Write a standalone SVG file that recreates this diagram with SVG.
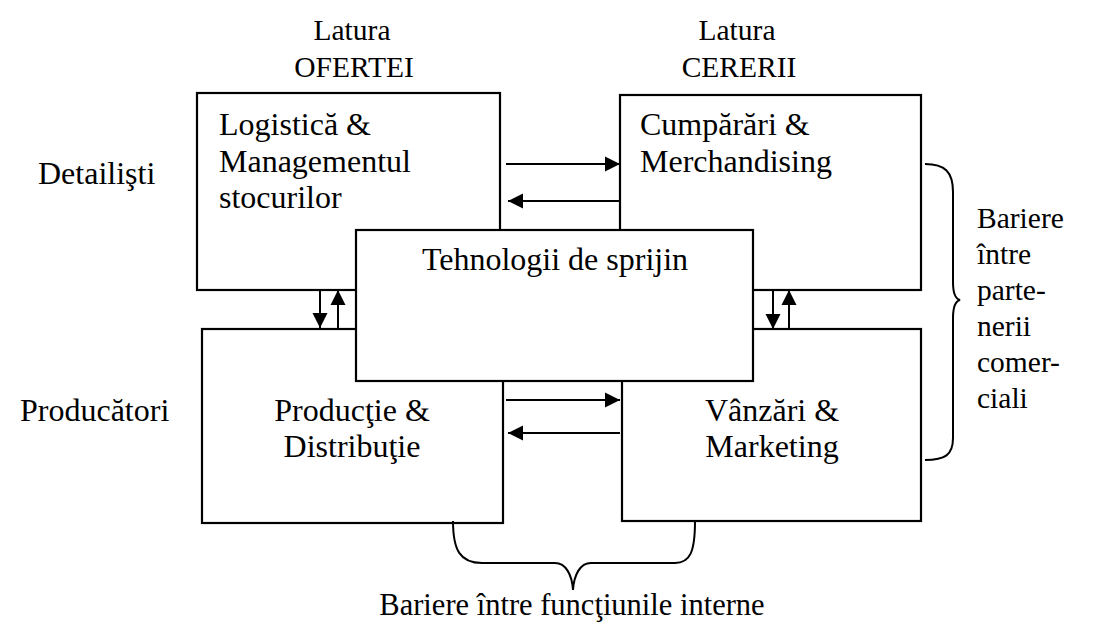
<svg xmlns="http://www.w3.org/2000/svg" width="1104" height="635" viewBox="0 0 1104 635">
<style>
text{font-family:"Liberation Serif","Times New Roman",serif;font-size:32px;fill:#000}
.s{font-size:29.5px}
.box{fill:#fff;stroke:#000;stroke-width:2.2}
.arr{stroke:#000;stroke-width:2;fill:none;marker-end:url(#ah)}
.brace{stroke:#000;stroke-width:2;fill:none}
.c{text-anchor:middle}
</style>
<defs>
<marker id="ah" markerUnits="userSpaceOnUse" markerWidth="16" markerHeight="16" viewBox="0 0 16 16" refX="15" refY="8" orient="auto">
<path d="M0,0.5 L15,8 L0,15.5 Z" fill="#000"/>
</marker>
</defs>
<rect width="1104" height="635" fill="#fff"/>
<g id="header-oferta"><text class="c s" x="352" y="40">Latura</text><text class="c s" x="354" y="77">OFERTEI</text></g>
<g id="header-cerere"><text class="c s" x="737" y="40">Latura</text><text class="c s" x="739" y="77">CERERII</text></g>
<g id="label-detailisti"><text x="38" y="184">Detailişti</text></g>
<g id="label-producatori"><text x="20" y="421">Producători</text></g>
<g id="logistica"><rect class="box" x="197" y="93" width="303" height="197"/>
<text x="219" y="135">Logistică &amp;</text><text x="219" y="172">Managementul</text><text x="219" y="208">stocurilor</text></g>
<g id="cumparari"><rect class="box" x="620" y="95" width="301" height="195"/>
<text x="640" y="135">Cumpărări &amp;</text><text x="640" y="172">Merchandising</text></g>
<g id="productie"><rect class="box" x="202" y="329" width="301" height="194"/>
<text class="c" x="352" y="421">Producţie &amp;</text><text class="c" x="352" y="457">Distribuţie</text></g>
<g id="vanzari"><rect class="box" x="622" y="329" width="299" height="192"/>
<text class="c" x="772" y="421">Vânzări &amp;</text><text class="c" x="772" y="457">Marketing</text></g>
<g id="tehnologii"><rect class="box" x="356" y="230" width="397" height="151"/>
<text class="c" x="555" y="270">Tehnologii de sprijin</text></g>
<g id="connectors">
<line class="arr" x1="506" y1="164" x2="620" y2="164"/>
<line class="arr" x1="620" y1="201" x2="508" y2="201"/>
<line class="arr" x1="506" y1="400" x2="620" y2="400"/>
<line class="arr" x1="620" y1="433" x2="508" y2="433"/>
<line class="arr" x1="320" y1="290" x2="320" y2="328"/>
<line class="arr" x1="338" y1="328" x2="338" y2="290"/>
<line class="arr" x1="773" y1="290" x2="773" y2="329"/>
<line class="arr" x1="789" y1="329" x2="789" y2="290"/>
</g>
<g id="brace-right"><path class="brace" d="M925,164 C945,164 953,172 953,192 L953,282 C953,294 956,299 960,300 C956,301 953,306 953,318 L953,438 C953,455 945,460 925,460"/>
<text class="s" x="977" y="228">Bariere</text><text class="s" x="977" y="264">între</text><text class="s" x="977" y="300">parte-</text><text class="s" x="977" y="336">nerii</text><text class="s" x="977" y="372">comer-</text><text class="s" x="977" y="408">ciali</text></g>
<g id="brace-bottom"><path class="brace" d="M453,521 C453,550 460,563 482,563 L555,563 C566,563 572,575 573,590 C574,575 580,563 591,563 L675,563 C690,563 695,552 695,521"/>
<text class="c" x="572" y="615" style="font-size:30.5px">Bariere între funcţiunile interne</text></g>
</svg>
